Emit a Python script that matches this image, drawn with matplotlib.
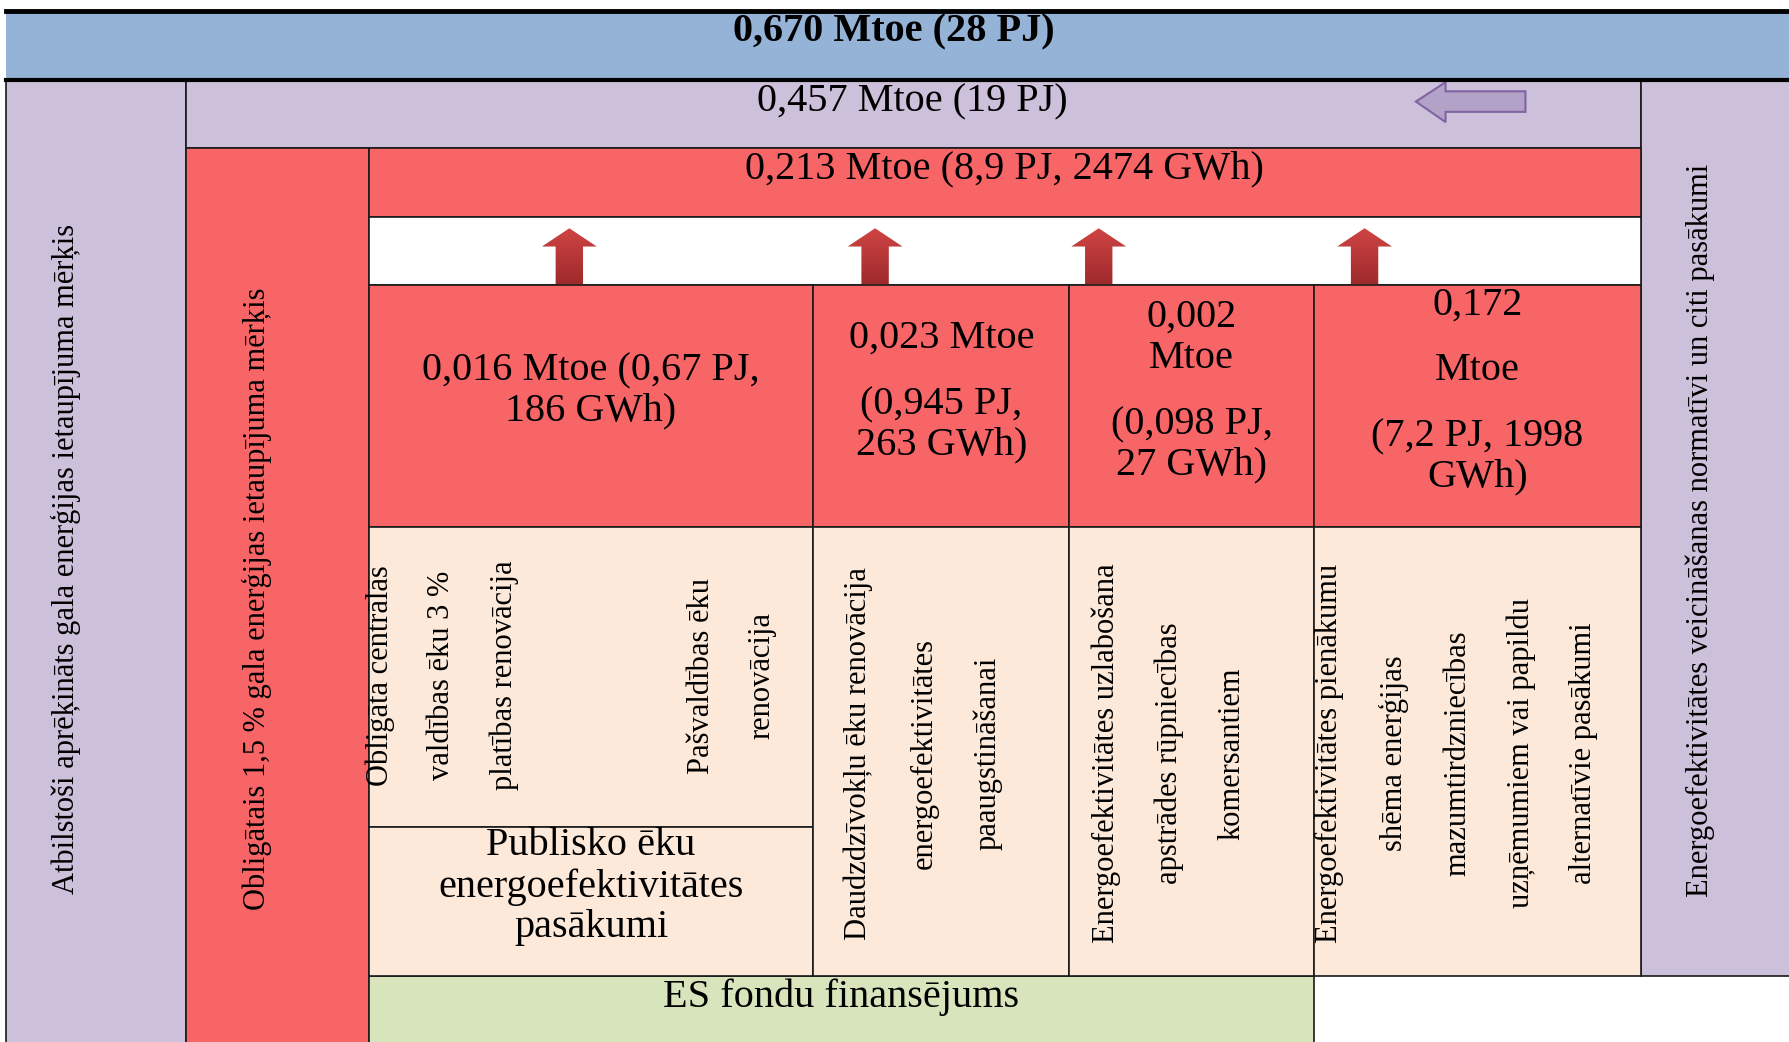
import numpy as np
import matplotlib.pyplot as plt
from matplotlib.patches import Rectangle, Polygon
from matplotlib.colors import LinearSegmentedColormap

plt.rcParams['font.family'] = ['Liberation Serif', 'DejaVu Serif']

# teksti
kopejais_merkis = "0,670 Mtoe (28 PJ)"
aprekinatais = "0,457 Mtoe (19 PJ)"
obligatais = "0,213 Mtoe (8,9 PJ, 2474 GWh)"
kreisais_teksts = "Atbilstoši aprēķināts gala enerģijas ietaupījuma mērķis"
obligatais_teksts = "Obligātais 1,5 % gala enerģijas ietaupījuma mērķis"
labais_teksts = "Energoefektivitātes veicināšanas normatīvi un citi pasākumi"
fondi = "ES fondu finansējums"
publiskas_ekas = ["Publisko ēku", "energoefektivitātes", "pasākumi"]

# ietaupījumi pa pasākumiem
ietaupijumi = [
    ["0,016 Mtoe (0,67 PJ,", "186 GWh)"],
    ["0,023 Mtoe", "(0,945 PJ,", "263 GWh)"],
    ["0,002", "Mtoe", "(0,098 PJ,", "27 GWh)"],
    ["0,172", "Mtoe", "(7,2 PJ, 1998", "GWh)"],
]

# pasākumu nosaukumi (vertikāli)
pasakumi = [
    ["Obligāta centrālās", "valdības ēku 3 %", "platības renovācija"],
    ["Pašvaldības ēku", "renovācija"],
    ["Daudzdzīvokļu ēku renovācija", "energoefektivitātes", "paaugstināšanai"],
    ["Energoefektivitātes uzlabošana", "apstrādes rūpniecības", "komersantiem"],
    ["Energoefektivitātes pienākumu", "shēma enerģijas", "mazumtirdzniecības",
     "uzņēmumiem vai papildu", "alternatīvie pasākumi"],
]

# --- izkārtojums (attēla koordinātās) ---
W, H = 1568, 913
kol_x = [323, 713, 937, 1152, 1438]
rindu_y = [[325, 360], [296, 355, 390], [278, 314, 372, 407], [267, 325, 383, 418]]
pas_x = [[333, 387, 442], [615, 668], [752, 810, 866], [970, 1025, 1080],
         [1165, 1222, 1278, 1333, 1388]]
pas_y = [592, 592, 660, 660, 660]
pas_kol = [0, 0, 1, 2, 3]
bultu_x = [499, 767, 963, 1196]

zils = '#95B3D7'
violets = '#CCC0DA'
sarkans = '#F86566'
gaiss = '#FDE9D9'
zals = '#D7E4BC'
malas = '#1a1a1a'
fs = 29

fig = plt.figure(figsize=(17.89, 10.42), dpi=100)
ax = fig.add_axes([0, 0, 1, 1])
ax.set_xlim(0, W)
ax.set_ylim(H, 0)
ax.axis('off')


def kaste(x0, y0, x1, y1, krasa, lw=1.2):
    r = Rectangle((x0, y0), x1 - x0, y1 - y0, facecolor=krasa, edgecolor=malas, lw=lw)
    ax.add_patch(r)
    return r


kaste(5, 10, W + 5, 70, zils, lw=0)
kaste(5, 70, 163, H + 5, violets)
kaste(163, 70, 1438, 130, violets)
kaste(1438, 70, W + 5, 855, violets)
kaste(163, 130, 323, H + 5, sarkans)
kaste(323, 130, 1438, 190, sarkans)
kaste(323, 190, 1438, 250, 'white')
kaste(323, 855, 1152, H + 5, zals)

sunas = []
for i in range(4):
    kaste(kol_x[i], 250, kol_x[i + 1], 462, sarkans)
    if i == 0:
        sunas.append(kaste(kol_x[0], 462, kol_x[1], 725, gaiss))
        kaste(kol_x[0], 725, kol_x[1], 855, gaiss)
    else:
        sunas.append(kaste(kol_x[i], 462, kol_x[i + 1], 855, gaiss))

ax.plot([5, W], [10, 10], color='black', lw=3.5)
ax.plot([5, W], [70, 70], color='black', lw=3)

# teksti joslās
ax.text(783, 28, kopejais_merkis, ha='center', va='center', fontsize=fs, fontweight='bold')
ax.text(800, 89, aprekinatais, ha='center', va='center', fontsize=fs)
ax.text(880, 148, obligatais, ha='center', va='center', fontsize=fs)
ax.text(737, 874, fondi, ha='center', va='center', fontsize=fs)

for i, rindas in enumerate(ietaupijumi):
    xc = (kol_x[i] + kol_x[i + 1]) / 2
    for teksts, y in zip(rindas, rindu_y[i]):
        ax.text(xc, y, teksts, ha='center', va='center', fontsize=fs)

for teksts, y in zip(publiskas_ekas, [741, 777, 813]):
    ax.text(518, y, teksts, ha='center', va='center', fontsize=fs)

# vertikālie teksti
ax.text(58, 490, kreisais_teksts, rotation=90, ha='center', va='center', fontsize=22)
ax.text(225, 525, obligatais_teksts, rotation=90, ha='center', va='center', fontsize=22)
ax.text(1490, 465, labais_teksts, rotation=90, ha='center', va='center', fontsize=22)

for j, rindas in enumerate(pasakumi):
    for teksts, x in zip(rindas, pas_x[j]):
        t = ax.text(x, pas_y[j], teksts, rotation=90, ha='center', va='center', fontsize=22)
        t.set_clip_path(sunas[pas_kol[j]])

# sarkanās bultas uz augšu
grad = np.linspace(0, 1, 64).reshape(-1, 1)
bultu_cmap = LinearSegmentedColormap.from_list('bulta', ['#D04444', '#9E2A2B'])
for cx in bultu_x:
    verts = [(cx, 200), (cx + 24, 216), (cx + 12, 216), (cx + 12, 249),
             (cx - 12, 249), (cx - 12, 216), (cx - 24, 216)]
    p = Polygon(verts, closed=True, facecolor='none', edgecolor='none')
    ax.add_patch(p)
    im = ax.imshow(grad, cmap=bultu_cmap, extent=(cx - 25, cx + 25, 250, 200),
                   origin='upper', aspect='auto', zorder=3)
    im.set_clip_path(p)

# violetā bulta pa kreisi
ax.add_patch(Polygon([(1241, 89), (1267, 72), (1267, 80), (1337, 80), (1337, 98),
                      (1267, 98), (1267, 107)], closed=True,
                     facecolor='#B3A2C7', edgecolor='#8064A2', lw=1.5))

ax.set_xlim(0, W)
ax.set_ylim(H, 0)
fig.savefig('out.png', dpi=100)
